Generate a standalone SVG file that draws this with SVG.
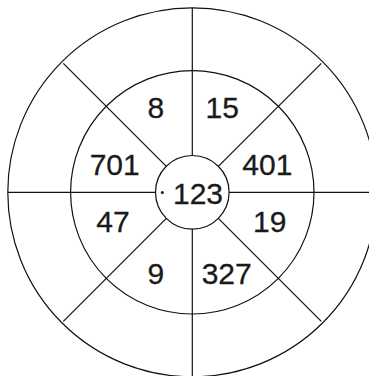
<svg xmlns="http://www.w3.org/2000/svg" width="369" height="376" viewBox="0 0 369 376">
<style>
.c{fill:none;stroke:#111;stroke-width:1.2}
.l{stroke:#111;stroke-width:1.2}
text{font-family:"Liberation Sans",Arial,sans-serif;font-size:30px;fill:#1a1a1a;text-anchor:middle;stroke:#1a1a1a;stroke-width:0.3}
</style>
<rect width="369" height="376" fill="#fff"/>
<g id="rings">
<circle class="c" cx="192.3" cy="192.3" r="184.5"/>
<circle class="c" cx="192.3" cy="192.3" r="121.7"/>
</g>
<g id="connectors">
<line class="l" x1="192.3" y1="7.8" x2="192.3" y2="155.5"/>
<line class="l" x1="192.3" y1="229.1" x2="192.3" y2="376.8"/>
<line class="l" x1="7.8" y1="192.3" x2="155.5" y2="192.3"/>
<line class="l" x1="229.1" y1="192.3" x2="376.8" y2="192.3"/>
<line class="l" x1="63.3" y1="63.3" x2="166.3" y2="166.3"/>
<line class="l" x1="321.3" y1="63.3" x2="218.3" y2="166.3"/>
<line class="l" x1="63.3" y1="321.3" x2="166.3" y2="218.3"/>
<line class="l" x1="321.3" y1="321.3" x2="218.3" y2="218.3"/>
</g>
<g id="center">
<circle class="c" cx="192.3" cy="192.3" r="36.8"/>
<circle cx="162.3" cy="192.6" r="1.5" fill="#1a1a1a"/>
<text x="198" y="204">123</text>
</g>
<g id="n8"><text x="155.8" y="118.3">8</text></g>
<g id="n15"><text x="222.3" y="118.3">15</text></g>
<g id="n701"><text x="114.7" y="174.7">701</text></g>
<g id="n401"><text x="267.3" y="175">401</text></g>
<g id="n47"><text x="113" y="231.7">47</text></g>
<g id="n19"><text x="269.7" y="231.7">19</text></g>
<g id="n9"><text x="155.8" y="284.3">9</text></g>
<g id="n327"><text x="226.7" y="284.3">327</text></g>
</svg>
